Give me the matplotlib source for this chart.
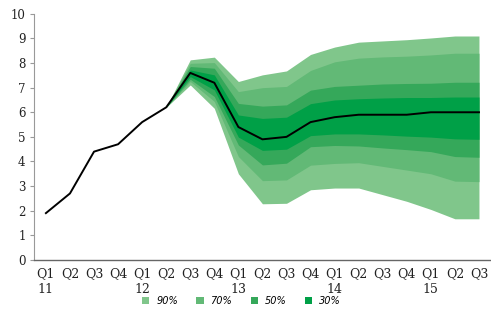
import matplotlib
matplotlib.use('Agg')
import matplotlib.pyplot as plt
from matplotlib.patches import Patch


quarters = ['Q1', 'Q2', 'Q3', 'Q4', 'Q1', 'Q2', 'Q3', 'Q4', 'Q1', 'Q2',
            'Q3', 'Q4', 'Q1', 'Q2', 'Q3', 'Q4', 'Q1', 'Q2', 'Q3']
years = ['11', '', '', '', '12', '', '', '', '13', '', '', '', '14', '',
         '', '', '15', '', '']

central = [1.9, 2.7, 4.4, 4.7, 5.6, 6.2, 7.6, 7.2, 5.4, 4.9, 5.0, 5.6,
           5.8, 5.9, 5.9, 5.9, 6.0, 6.0, 6.0]

# fan starts at 12 Q2 (index 5)
fan_start = 5
upper_90 = [6.2, 8.13, 8.24, 7.25, 7.52, 7.68, 8.35, 8.65, 8.85, 8.9, 8.95, 9.02, 9.1, 9.1]
upper_70 = [6.2, 7.99, 8.02, 6.84, 7.0, 7.05, 7.7, 8.05, 8.2, 8.25, 8.28, 8.33, 8.4, 8.4]
upper_50 = [6.2, 7.86, 7.79, 6.36, 6.25, 6.3, 6.9, 7.05, 7.1, 7.15, 7.17, 7.18, 7.22, 7.22]
upper_30 = [6.2, 7.72, 7.52, 5.89, 5.75, 5.8, 6.35, 6.5, 6.55, 6.58, 6.6, 6.6, 6.62, 6.62]
lower_30 = [6.2, 7.45, 6.91, 4.99, 4.45, 4.5, 5.05, 5.12, 5.12, 5.08, 5.03, 4.99, 4.92, 4.9]
lower_50 = [6.2, 7.34, 6.64, 4.67, 3.86, 3.93, 4.6, 4.65, 4.63, 4.55, 4.48, 4.4, 4.2, 4.17]
lower_70 = [6.2, 7.25, 6.44, 4.2, 3.22, 3.25, 3.85, 3.92, 3.95, 3.8, 3.65, 3.5, 3.2, 3.18]
lower_90 = [6.2, 7.11, 6.16, 3.5, 2.28, 2.3, 2.85, 2.92, 2.92, 2.65, 2.38, 2.05, 1.67, 1.67]

band_labels = ['90%', '70%', '50%', '30%']
band_colors = ['#80c68b', '#62b976', '#35a85a', '#00a047']

fig = plt.figure(figsize=(4.91, 3.15), dpi=100)
ax = fig.add_axes([0.069, 0.175, 0.931, 0.781])

x = list(range(len(central)))
xf = x[fan_start:]
bands = [(lower_90, upper_90), (lower_70, upper_70),
         (lower_50, upper_50), (lower_30, upper_30)]
for (lo, hi), c in zip(bands, band_colors):
    ax.fill_between(xf, lo, hi, color=c, linewidth=0)

ax.plot(x, central, color='black', linewidth=1.4, zorder=5)

ax.set_xlim(-0.5, len(central) - 0.5)
ax.set_ylim(0, 10)
ax.set_yticks(range(0, 11))

labels = [q + '\n' + y for q, y in zip(quarters, years)]
ax.set_xticks(x)
ax.set_xticklabels(labels, family='DejaVu Serif', fontsize=9, color='#222222')
for t in ax.get_xticklabels():
    t.set_linespacing(1.35)
    t.set_verticalalignment('top')
ax.tick_params(axis='x', length=0, pad=5)
ax.tick_params(axis='y', length=3, width=0.8, color='#999999', pad=3)
for t in ax.get_yticklabels():
    t.set_family('DejaVu Serif')
    t.set_fontsize(8.5)
    t.set_color('#222222')

ax.spines['top'].set_visible(False)
ax.spines['right'].set_visible(False)
ax.spines['left'].set_color('#999999')
ax.spines['bottom'].set_color('#666666')
ax.spines['bottom'].set_linewidth(1.0)

handles = [Patch(facecolor=c, edgecolor='none') for c in band_colors]
leg = fig.legend(handles, band_labels, loc='center', ncol=4,
                 bbox_to_anchor=(0.492, 0.046), frameon=False,
                 handlelength=0.75, handleheight=0.75, handletextpad=0.7,
                 columnspacing=1.9, prop={'family': 'DejaVu Sans', 'style': 'italic', 'size': 7})

fig.savefig('out.png', dpi=100)
